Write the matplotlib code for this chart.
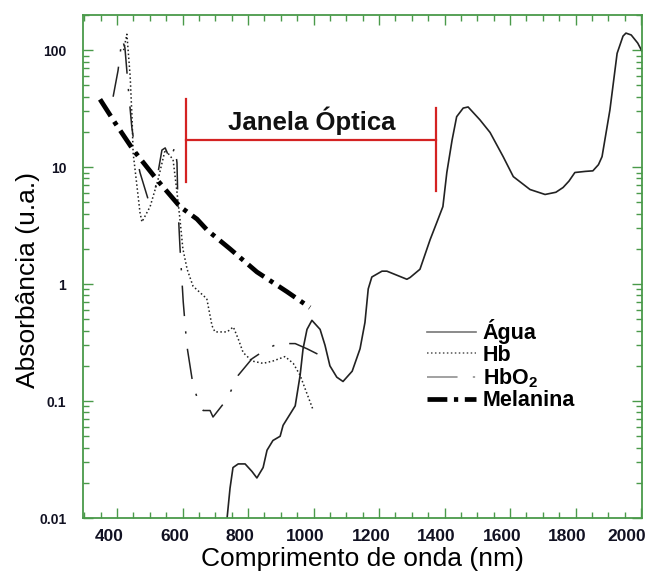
import matplotlib
matplotlib.use("Agg")
import matplotlib.pyplot as plt
from matplotlib.ticker import FixedLocator, LogLocator, NullFormatter, FixedFormatter
from matplotlib.transforms import ScaledTranslation

plt.rcParams['font.family'] = ['Liberation Sans', 'DejaVu Sans']
plt.rcParams['mathtext.fontset'] = 'custom'
plt.rcParams['mathtext.rm'] = 'Liberation Sans:bold'
plt.rcParams['mathtext.bf'] = 'Liberation Sans:bold'

# ---- data ----
agua_x = [736, 745, 754, 770, 791, 812, 827, 846, 858, 876, 898, 907, 944, 959,
          968, 980, 995, 1020, 1035, 1050, 1071, 1090, 1118, 1142, 1157, 1167,
          1178, 1209, 1224, 1285, 1295, 1325, 1356, 1377, 1395, 1407, 1423, 1437,
          1457, 1472, 1508, 1539, 1579, 1610, 1661, 1707, 1740, 1762, 1780, 1798,
          1830, 1853, 1870, 1881, 1905, 1927, 1945, 1954, 1970, 1990, 2003]
agua_y = [0.01, 0.018, 0.027, 0.029, 0.029, 0.025, 0.022, 0.027, 0.038, 0.046,
          0.05, 0.062, 0.091, 0.166, 0.28, 0.41, 0.49, 0.41, 0.30, 0.20, 0.16,
          0.147, 0.18, 0.28, 0.47, 0.91, 1.15, 1.29, 1.29, 1.1, 1.14, 1.34, 2.4,
          3.4, 4.6, 9.0, 17, 27, 32, 32.7, 25.4, 19.8, 12.3, 8.3, 6.44, 5.84, 6.1,
          6.7, 7.6, 9.0, 9.2, 9.3, 10.5, 12.3, 30.8, 94, 132, 140, 135, 115, 98]

hb_x = [420, 430, 440, 446, 449, 461, 470, 476, 501, 525, 547, 571, 583, 592,
        601, 614, 632, 674, 690, 699, 736, 755, 770, 785, 812, 846, 876, 913,
        938, 959, 974, 998]
hb_y = [100, 137, 60, 25.4, 13.3, 6.8, 4.1, 3.4, 4.6, 7.8, 14.1, 11.6, 6.1, 3.6,
        2.0, 1.34, 0.96, 0.75, 0.44, 0.39, 0.39, 0.43, 0.34, 0.26, 0.22, 0.21,
        0.22, 0.24, 0.21, 0.166, 0.128, 0.085]

hbo2_x = [388, 403, 415, 424, 435, 445, 455, 470, 495, 516, 537, 547, 562, 577,
          583, 586, 592, 602, 613, 632, 648, 663, 684, 693, 736, 770, 812, 858,
          892, 944, 980, 1015]
hbo2_y = [40, 67, 125, 105, 45, 22, 14, 9.0, 5.3, 6.4, 14, 14.6, 11.6, 15, 10.9,
          4.6, 2.1, 0.71, 0.30, 0.137, 0.10, 0.083, 0.083, 0.073, 0.104, 0.166,
          0.23, 0.28, 0.31, 0.31, 0.28, 0.25]

mel_x = [348, 394, 449, 522, 592, 644, 675, 745, 827, 919, 989]
mel_y = [38, 23.9, 14.1, 7.8, 4.6, 3.6, 2.9, 2.0, 1.27, 0.86, 0.63]

janela_x = [610, 1375]
janela_y = 17
janela_left = [7.4, 38]
janela_right = [6.2, 32]

x_ticks = [400, 600, 800, 1000, 1200, 1400, 1600, 1800, 2000]
y_ticks = [0.01, 0.1, 1, 10, 100]
y_ticklabels = ['0.01', '0.1', '1', '10', '100']

# ---- figure ----
fig = plt.figure(figsize=(6.55, 5.76), dpi=100)
ax = fig.add_axes([83/655, 1-518/576, (642-83)/655, (518-15)/576])

green = '#4a9a4a'
ax.plot(agua_x, agua_y, color='#222222', lw=1.2, label='Água')
ax.plot(hb_x, hb_y, color='#222222', lw=1.1, ls=(0, (1, 1.6)), label='Hb')
ax.plot(hbo2_x, hbo2_y, color='#222222', lw=1.1, ls=(0, (20, 10, 1.5, 10)),
        label=r'HbO$_\mathbf{2}$')
ax.plot(mel_x, mel_y, color='black', lw=3.4, ls=(0, (4.2, 1.4, 0.9, 1.4)),
        label='Melanina')

red = '#d42222'
ax.plot(janela_x, [janela_y, janela_y], color=red, lw=1.6)
ax.plot([janela_x[0]] * 2, janela_left, color=red, lw=1.6)
ax.plot([janela_x[1]] * 2, janela_right, color=red, lw=1.6)
ax.text(sum(janela_x) / 2 + 2, 25, 'Janela Óptica', ha='center', va='center',
        fontsize=18.5, fontweight='bold', color='#111111')

ax.set_yscale('log')
ax.set_xlim(296, 2003)
ax.set_ylim(0.01, 200)

ax.xaxis.set_major_locator(FixedLocator(x_ticks))
ax.xaxis.set_minor_locator(FixedLocator(list(range(300, 2001, 50))))
ax.yaxis.set_major_locator(FixedLocator(y_ticks))
ax.yaxis.set_major_formatter(FixedFormatter(y_ticklabels))
ax.yaxis.set_minor_locator(LogLocator(base=10, subs=range(2, 10)))
ax.yaxis.set_minor_formatter(NullFormatter())

for s in ax.spines.values():
    s.set_color(green)
    s.set_linewidth(1.3)
ax.tick_params(which='both', direction='in', top=True, right=True, color=green,
               width=1.0)
ax.tick_params(which='major', length=7)
ax.tick_params(which='minor', length=4)
ax.tick_params(axis='x', labelsize=12.5, pad=8)
ax.tick_params(axis='y', labelsize=10, pad=12)
for lab in ax.get_xticklabels() + ax.get_yticklabels():
    lab.set_fontweight('bold')
    lab.set_color('#111122')

# shift x tick labels slightly to the left, as in the reference
xlabs = ax.get_xticklabels()
for i, lab in enumerate(xlabs):
    dx = -14 if i == len(xlabs) - 1 else -8
    lab.set_transform(lab.get_transform() + ScaledTranslation(dx / 100, 0, fig.dpi_scale_trans))

ax.set_xlabel('Comprimento de onda (nm)', fontsize=19, labelpad=2)
ax.set_ylabel('Absorbância (u.a.)', fontsize=19)
ax.yaxis.set_label_coords(-0.077, 0.473)

leg = ax.legend(loc='upper left', bbox_to_anchor=(0.615, 0.395), frameon=False,
                fontsize=15.5, handlelength=2.3, handletextpad=0.3,
                labelspacing=0.02, borderpad=0, borderaxespad=0)
for t in leg.get_texts():
    t.set_fontweight('bold')
hl = leg.legend_handles
hl[0].set_color('#777777')
hl[1].set_color('#555555')
hl[2].set_color('#888888')

fig.savefig('out.png', dpi=100)
